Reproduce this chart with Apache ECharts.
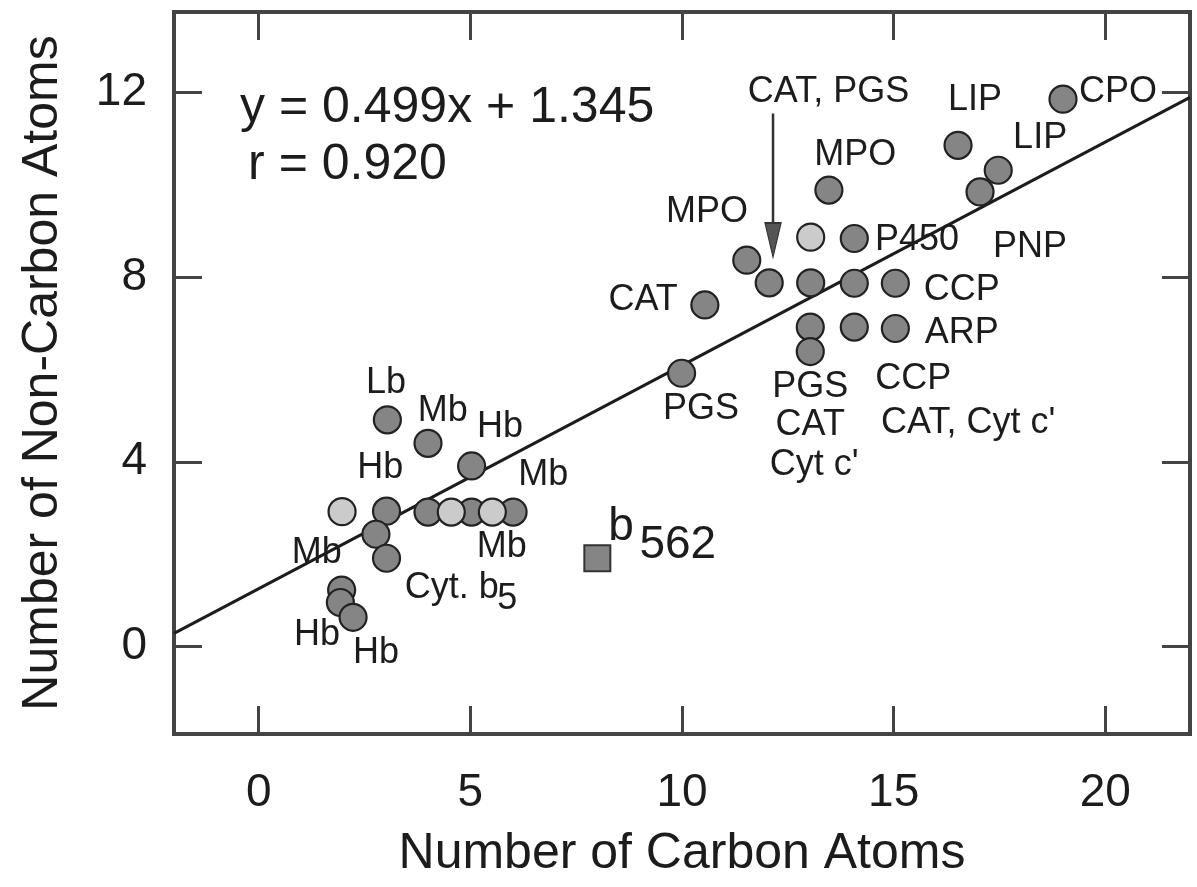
<!DOCTYPE html>
<html>
<head>
<meta charset="utf-8">
<script src="https://cdn.jsdelivr.net/npm/echarts@6/dist/echarts.min.js"></script>
<style>
html,body{margin:0;padding:0;background:#fff;}
#chart{width:1197px;height:887px;}
</style>
</head>
<body>
<div id="chart"></div>
<script>
// ---- data ----
const xTicks = [0, 5, 10, 15, 20];
const yTicks = [0, 4, 8, 12];
const xTitle = 'Number of Carbon Atoms';
const yTitle = 'Number of Non-Carbon Atoms';

// dark (cross-hatched) circles [carbon, non-carbon]
const darkPoints = [
  [3.04, 4.91], [4.0, 4.40], [5.03, 3.91],
  [3.02, 2.93], [2.77, 2.43], [3.02, 1.91],
  [4.0, 2.91], [5.03, 2.91], [6.01, 2.91],
  [1.96, 1.22], [1.93, 0.95], [2.23, 0.63],
  [9.99, 5.92], [10.54, 7.40], [11.53, 8.37], [12.06, 7.88],
  [13.04, 7.88], [14.07, 7.87], [15.04, 7.87],
  [13.03, 6.92], [14.07, 6.92], [15.04, 6.89], [13.03, 6.39],
  [14.07, 8.84], [13.47, 9.89],
  [16.52, 10.86], [17.47, 10.32], [17.04, 9.85], [19.0, 11.86]
];
// light circles
const lightPoints = [
  [1.97, 2.92], [4.55, 2.91], [5.52, 2.91], [13.04, 8.87]
];
// square (b562)
const squarePoints = [[8.0, 1.91]];
// fitted line end points as drawn
const fitLine = [[-2, 0.28], [22, 11.9]];
// arrow from label to cluster
const arrowShaft = [[12.15, 11.55], [12.15, 9.0]];
const arrowTip = [[12.15, 8.44]];

// labels [x, y, text]
const pointLabels = [
  [13.46, 12.01, 'CAT, PGS'], [16.92, 11.84, 'LIP'], [20.30, 12.01, 'CPO'],
  [14.09, 10.65, 'MPO'], [18.46, 11.02, 'LIP'], [10.59, 9.41, 'MPO'],
  [15.55, 8.81, 'P450'], [18.22, 8.66, 'PNP'], [9.08, 7.51, 'CAT'],
  [16.61, 7.72, 'CCP'], [16.61, 6.79, 'ARP'], [10.45, 5.14, 'PGS'],
  [13.03, 5.62, 'PGS'], [13.03, 4.80, 'CAT'], [13.12, 3.93, "Cyt c'"],
  [15.46, 5.80, 'CCP'], [16.76, 4.85, "CAT, Cyt c'"],
  [3.01, 5.71, 'Lb'], [4.35, 5.10, 'Mb'], [5.70, 4.76, 'Hb'],
  [2.87, 3.86, 'Hb'], [6.72, 3.71, 'Mb'], [5.74, 2.16, 'Mb'],
  [1.37, 2.02, 'Mb'], [4.56, 1.26, 'Cyt. b'], [5.87, 1.02, '5'],
  [1.38, 0.245, 'Hb'], [2.77, -0.15, 'Hb']
];
const bigLabels = [[8.56, 2.58, 'b'], [9.90, 2.20, '562']];
const equationLabels = [[-0.44, 11.67, 'y = 0.499x + 1.345'], [-0.25, 10.43, 'r = 0.920']];

// ---- rendering ----
const FONT = "'Liberation Sans', Arial, Helvetica, sans-serif";
const INK = '#1c1c1c';
const DARK_FILL = '#858585';
const LIGHT_FILL = '#cbcbcb';

function labelSeries(arr, fontSize, align) {
  return {
    type: 'scatter', xAxisIndex: 0, yAxisIndex: 0,
    symbolSize: 0.05, itemStyle: { color: INK, opacity: 1 }, z: 6, silent: true,
    data: arr.map(d => ({ value: [d[0], d[1]], name: d[2] })),
    label: {
      show: true, position: 'inside', formatter: p => p.name,
      fontFamily: FONT, fontSize: fontSize, color: INK, opacity: 1,
      textBorderWidth: 0,
      align: align, verticalAlign: 'middle'
    },
    labelLayout: { hideOverlap: false }
  };
}

const chart = echarts.init(document.getElementById('chart'), null, { renderer: 'canvas' });
const axisTickStyle = { show: true, inside: true, length: 28, lineStyle: { color: '#444', width: 3 } };

chart.setOption({
  backgroundColor: '#fff',
  animation: false,
  grid: { left: 174, right: 7, top: 12, bottom: 153, show: true, borderColor: '#444', borderWidth: 4, backgroundColor: 'transparent' },
  xAxis: [{
    type: 'value', min: -2, max: 22, position: 'bottom',
    name: xTitle, nameLocation: 'middle', nameGap: 95,
    nameTextStyle: { fontFamily: FONT, fontSize: 50, color: INK },
    axisLine: { show: false, onZero: false },
    axisTick: Object.assign({ customValues: xTicks }, axisTickStyle),
    axisLabel: { customValues: xTicks, margin: 36, fontFamily: FONT, fontSize: 46, color: INK },
    splitLine: { show: false }
  }, {
    type: 'value', min: -2, max: 22, position: 'top',
    axisLine: { show: false, onZero: false },
    axisTick: Object.assign({ customValues: xTicks }, axisTickStyle),
    axisLabel: { show: false }, splitLine: { show: false }
  }],
  yAxis: [{
    type: 'value', min: -1.9, max: 13.75, position: 'left',
    name: yTitle, nameLocation: 'middle', nameGap: 106, nameRotate: 90,
    nameTextStyle: { fontFamily: FONT, fontSize: 50, color: INK },
    axisLine: { show: false, onZero: false },
    axisTick: Object.assign({ customValues: yTicks }, axisTickStyle),
    axisLabel: { customValues: yTicks, margin: 27, fontFamily: FONT, fontSize: 46, color: INK },
    splitLine: { show: false }
  }, {
    type: 'value', min: -1.9, max: 13.75, position: 'right',
    axisLine: { show: false, onZero: false },
    axisTick: Object.assign({ customValues: yTicks }, axisTickStyle),
    axisLabel: { show: false }, splitLine: { show: false }
  }],
  series: [
    {
      type: 'line', data: fitLine, showSymbol: false, symbol: 'none', z: 2, silent: true,
      lineStyle: { color: INK, width: 3 }
    },
    {
      type: 'line', data: arrowShaft, showSymbol: false, symbol: 'none', z: 2, silent: true,
      lineStyle: { color: '#333', width: 2.5 }
    },
    {
      type: 'scatter', data: arrowTip, symbol: 'triangle', symbolRotate: 180,
      symbolSize: [16, 34], symbolOffset: [0, -17], z: 3, silent: true,
      itemStyle: { color: '#555', borderColor: '#333', borderWidth: 1.5, opacity: 1 }
    },
    {
      type: 'scatter', data: darkPoints, symbol: 'circle', symbolSize: 27, z: 4, silent: true,
      itemStyle: { color: DARK_FILL, borderColor: '#222', borderWidth: 2.2, opacity: 1 }
    },
    {
      type: 'scatter', data: lightPoints, symbol: 'circle', symbolSize: 27, z: 4, silent: true,
      itemStyle: { color: LIGHT_FILL, borderColor: '#222', borderWidth: 2.2, opacity: 1 }
    },
    {
      type: 'scatter', data: squarePoints, symbol: 'rect', symbolSize: 26, z: 4, silent: true,
      itemStyle: { color: DARK_FILL, borderColor: '#333', borderWidth: 2, opacity: 1 }
    },
    labelSeries(pointLabels, 36, 'center'),
    labelSeries(bigLabels, 46, 'center'),
    labelSeries(equationLabels, 50, 'left')
  ]
});
</script>
</body>
</html>
